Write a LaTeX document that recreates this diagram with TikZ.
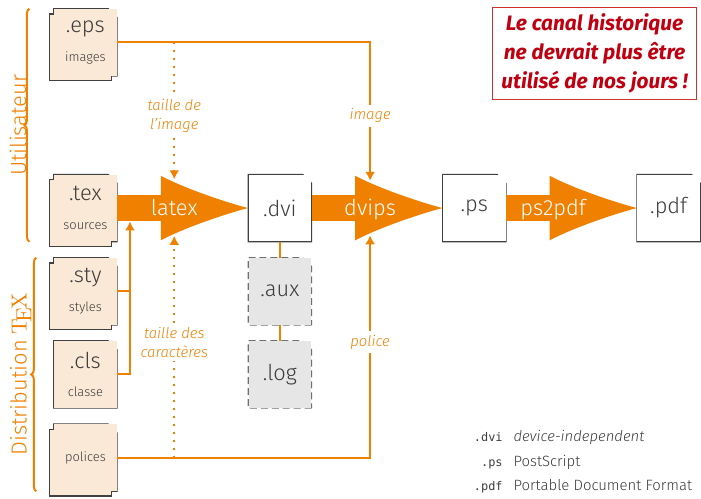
\documentclass[tikz,border=0pt]{standalone}
\usepackage{fontspec}
\setmainfont{Fira Sans Light}[
  BoldFont=Fira Sans Bold,
  ItalicFont=Fira Sans Light Italic,
  BoldItalicFont=Fira Sans Bold Italic]
\setmonofont{DejaVu Sans Mono}[Scale=0.8]
\newfontfamily\lmfont{Latin Modern Roman}
\usetikzlibrary{positioning, arrows.meta, calc, decorations.pathreplacing}
\definecolor{flowOrange}{HTML}{F08000}
\definecolor{docFill}{HTML}{FBE9D7}
\definecolor{docBorder}{HTML}{404040}
\definecolor{tmpFill}{HTML}{E6E6E6}
\definecolor{tmpBorder}{HTML}{707070}
\definecolor{textMain}{HTML}{3C3C3C}
\definecolor{warnRed}{HTML}{C00010}
\definecolor{warnBorder}{HTML}{D03030}
\newcommand{\docsub}[1]{{\fontsize{6.5}{8}\selectfont #1}}
\tikzset{
  docbase/.style={
    rectangle, minimum width=31.5pt, minimum height=33.5pt, inner sep=0pt,
    align=center, text=textMain, font=\fontsize{11}{13}\selectfont,
    append after command={
      \pgfextra{
        \begin{pgfinterruptpath}
          \fill[white] ($(\tikzlastnode.north east)+(-4.5pt,0)$) -- (\tikzlastnode.north east)
            -- ($(\tikzlastnode.north east)+(0,-4.5pt)$) -- cycle;
          \draw[#1] (\tikzlastnode.south east) -- (\tikzlastnode.south west)
            -- (\tikzlastnode.north west) -- ($(\tikzlastnode.north east)+(-4.5pt,0)$)
            -- ($(\tikzlastnode.north east)+(0,-4.5pt)$) -- cycle;
          \draw[#1, solid] ($(\tikzlastnode.north east)+(-4.5pt,0)$)
            |- ($(\tikzlastnode.north east)+(0,-4.5pt)$);
        \end{pgfinterruptpath}
      }
    },
  },
  docfile/.style={
    docbase={draw=docBorder, line width=0.6pt}, fill=docFill,
  },
  docstack/.style={
    docfile,
    preaction={fill=docFill, draw=docBorder, line width=0.6pt,
      transform canvas={shift={(-2.5pt,-2.5pt)}}},
  },
  outfile/.style={
    docbase={draw=docBorder, line width=0.6pt}, fill=white,
  },
  tmpfile/.style={
    docbase={draw=tmpBorder, line width=0.6pt, dash pattern=on 3.5pt off 2pt},
    fill=tmpFill,
  },
  bigarrow/.style={
    draw=flowOrange, line width=13.5pt,
    -{Latex[length=44pt, width=32.5pt, line width=0pt]},
  },
  steplabel/.style={
    anchor=base, yshift=-3.75pt, text=white, font=\fontsize{11}{13}\selectfont,
  },
  flowline/.style={draw=flowOrange, line width=1pt},
  flowarrow/.style={flowline, -{Latex[length=4.5pt, width=5pt]}},
  sizearrow/.style={flowarrow, dash pattern=on 1pt off 3pt},
  flowlabel/.style={
    fill=white, inner sep=2pt, align=center, text=flowOrange,
    font=\fontsize{7.5}{9.5}\selectfont\itshape,
  },
  groupbrace/.style={
    draw=flowOrange, line width=1pt, decorate, decoration={brace, amplitude=2.5pt},
  },
  groupname/.style={
    midway, rotate=90, anchor=south, inner sep=0pt, outer sep=1.5pt,
    text=flowOrange, font=\fontsize{11}{13}\selectfont,
  },
  warnbox/.style={
    draw=warnBorder, line width=0.6pt, fill=white, text=warnRed, align=center,
    minimum width=103pt, minimum height=46.5pt, inner sep=2pt,
    font=\fontsize{10.5}{14.5}\selectfont\bfseries\itshape,
  },
  legend/.style={
    inner sep=0pt, text=textMain, font=\fontsize{7.5}{12.5}\selectfont,
  },
}

\begin{document}
\begin{tikzpicture}

  % === Source files (left column) ===
  \node[docstack] (tex) {.tex\\[1.5pt]\docsub{sources}};
  \node[docstack, above=49.5pt of tex] (eps) {.eps\\[1.5pt]\docsub{images}};
  \node[docstack, below=8pt of tex] (sty) {.sty\\[1.5pt]\docsub{styles}};
  \node[docfile, below=8pt of sty] (cls) {.cls\\[1.5pt]\docsub{classe}};
  \node[docstack, below=8pt of cls] (polices) {\docsub{polices}};

  % === Produced files ===
  \node[outfile, right=66pt of tex] (dvi) {.dvi};
  \node[tmpfile, below=8pt of dvi] (aux) {.aux};
  \node[tmpfile, below=8pt of aux] (log) {.log};
  \node[outfile, right=66pt of dvi] (ps) {.ps};
  \node[outfile, right=66pt of ps] (pdf) {.pdf};

  % === Processing steps ===
  \draw[bigarrow] (tex.east) -- node[steplabel, pos=0.436] {latex} (dvi.west);
  \draw[bigarrow] (dvi.east) -- node[steplabel, pos=0.447] {dvips} (ps.west);
  \draw[bigarrow] (ps.east) -- node[steplabel, pos=0.36] {ps2pdf} (pdf.west);

  \coordinate (latexMid) at ($(tex.east)!0.436!(dvi.west)$);
  \coordinate (dvipsMid) at ($(dvi.east)!0.447!(ps.west)$);
  \coordinate (texIn) at ($(tex.east)+(6.5pt,-6.75pt)$);

  % === Inputs to latex and dvips ===
  \draw[flowarrow] (eps.east) -| node[flowlabel, pos=0.765] {image} ($(dvipsMid)+(0,13.75pt)$);
  \draw[flowarrow] (polices.east) -| node[flowlabel, pos=0.76] {police} ($(dvipsMid)+(0,-13.75pt)$);
  \draw[sizearrow] (latexMid |- eps.east) -- node[flowlabel, pos=0.54] {taille de\\l’image} ($(latexMid)+(0,14.5pt)$);
  \draw[sizearrow] (latexMid |- polices.east) -- node[flowlabel, pos=0.52] {taille des\\caractères} ($(latexMid)+(0,-14pt)$);
  \draw[flowline] (sty.east) -- (sty.east -| texIn);
  \draw[flowarrow] (cls.east) -| (texIn);

  % === Auxiliary files ===
  \draw[flowline] (dvi) -- (aux);
  \draw[flowline] (aux) -- (log);

  % === Groups ===
  \draw[groupbrace] ([xshift=-12.25pt]tex.south west) -- ([xshift=-12.25pt]eps.north west)
    node[groupname] {Utilisateur};
  \draw[groupbrace] ([xshift=-8.75pt]polices.south west) -- ([xshift=-8.75pt]sty.north west)
    node[groupname, outer sep=2.5pt] {Distribution {\lmfont\TeX}};

  % === Note and legend ===
  \node[warnbox, anchor=north east] (warn) at ($(pdf.east |- eps.north)+(-1.5pt,1pt)$)
    {Le canal historique\\ne devrait plus être\\utilisé de nos jours !};
  \node[legend, anchor=east] (legend) at ($(pdf.east |- polices.center)+(-4pt,-1.75pt)$) {%
    \begin{tabular}{@{}r@{\hspace{5.5pt}}l@{}}
      \texttt{.dvi} & \emph{device-independent}\\
      \texttt{.ps}  & PostScript\\
      \texttt{.pdf} & Portable Document Format
    \end{tabular}};

  \useasboundingbox ($(tex.center)+(-43pt,-144.25pt)$) rectangle ($(tex.center)+(307.5pt,104.75pt)$);

\end{tikzpicture}
\end{document}
